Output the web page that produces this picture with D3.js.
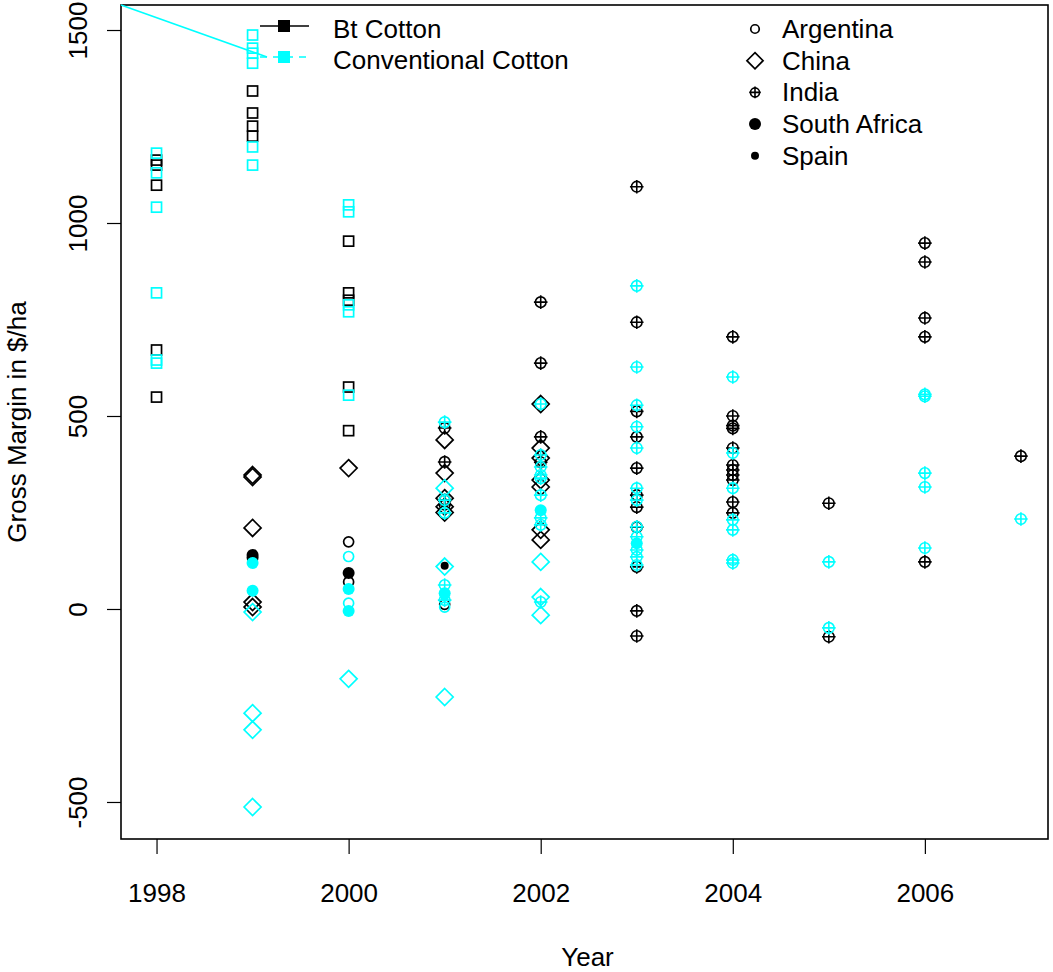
<!DOCTYPE html>
<html>
<head>
<meta charset="utf-8">
<script src="https://cdn.jsdelivr.net/npm/d3@7"></script>
<style>
  html, body { margin: 0; padding: 0; background: #fff; }
  svg { display: block; font-family: "Liberation Sans", Arial, sans-serif; }
</style>
</head>
<body>
<svg id="chart" width="1053" height="972"></svg>
<script>
// ---------- data ----------
const xTicks = [1998, 2000, 2002, 2004, 2006];
const yTicks = [-500, 0, 500, 1000, 1500];
const typeLabels = ["Bt Cotton", "Conventional Cotton"];
const countries = ["Argentina", "China", "India", "South Africa", "Spain"];

// squares (country not named in the legend)
const squareBt = [[1998,1163],[1998,1150],[1998,1098],[1998,671],[1998,549],
  [1999,1342],[1999,1285],[1999,1251],[1999,1225],
  [2000,953],[2000,819],[2000,800],[2000,575],[2000,462]];
const squareConv = [[1998,1181],[1998,1130],[1998,1041],[1998,819],[1998,645],[1998,637],
  [1999,1487],[1999,1453],[1999,1440],[1999,1414],[1999,1197],[1999,1150],
  [2000,1047],[2000,1029],[2000,788],[2000,770],[2000,554]];

const argentinaBt = [[2000,174],[2000,70],[2001,12]];
const argentinaConv = [[2000,136],[2000,15],[2001,5]];

const chinaBt = [[1999,347],[1999,342],[1999,210],[1999,18],[1999,5],
  [2000,365],
  [2001,438],[2001,352],[2001,287],[2001,265],[2001,250],
  [2002,531],[2002,417],[2002,391],[2002,334],[2002,316],[2002,205],[2002,179]];
const chinaConv = [[1999,-8],[1999,-270],[1999,-313],[1999,-513],
  [2000,-181],
  [2001,313],[2001,110],[2001,-228],
  [2002,122],[2002,31],[2002,-16]];

const indiaBt = [[2001,469],[2001,381],[2001,282],[2001,270],
  [2002,795],[2002,637],[2002,446],[2002,380],
  [2003,1094],[2003,743],[2003,512],[2003,446],[2003,365],[2003,295],[2003,264],[2003,212],[2003,109],[2003,-5],[2003,-70],
  [2004,705],[2004,500],[2004,475],[2004,468],[2004,417],[2004,373],[2004,360],[2004,347],[2004,334],[2004,277],[2004,249],
  [2005,274],[2005,-72],
  [2006,948],[2006,899],[2006,754],[2006,705],[2006,122],
  [2007,396]];
const indiaConv = [[2001,484],[2001,282],[2001,249],[2001,62],[2001,23],
  [2002,531],[2002,399],[2002,368],[2002,347],[2002,339],[2002,295],[2002,236],[2002,218],[2002,18],
  [2003,837],[2003,627],[2003,528],[2003,472],[2003,417],[2003,313],[2003,282],[2003,213],[2003,187],[2003,153],[2003,135],[2003,114],
  [2004,601],[2004,404],[2004,313],[2004,231],[2004,205],[2004,127],[2004,119],
  [2005,122],[2005,-49],
  [2006,556],[2006,551],[2006,352],[2006,316],[2006,158],
  [2007,233]];

const southAfricaBt = [[1999,140],[1999,133],[2000,93]];
const southAfricaConv = [[1999,119],[1999,47],[2000,52],[2000,-5],[2001,41],[2002,256],[2003,170]];

const spainBt = [[2001,112]];
const spainConv = [[2001,30]];

// ---------- layout ----------
const M = { left: 121, right: 1048, top: 5, bottom: 839 };
const BLACK = "#000000", CYAN = "#00FFFF";
const FONT = 26;

const svg = d3.select("#chart");
const x = d3.scaleLinear().domain([1997.63, 2007.282]).range([M.left, M.right]);
const y = d3.scaleLinear().domain([-595.9, 1564.8]).range([M.bottom, M.top]);

// ---------- symbols ----------
function drawSymbol(g, shape, cx, cy, color, scale) {
  const s = scale || 1;
  if (shape === "square") {
    g.append("rect").attr("x", cx - 5*s).attr("y", cy - 5*s).attr("width", 10*s).attr("height", 10*s)
      .attr("fill", "none").attr("stroke", color).attr("stroke-width", 1.7);
  } else if (shape === "circle") {
    g.append("circle").attr("cx", cx).attr("cy", cy).attr("r", 5*s)
      .attr("fill", "none").attr("stroke", color).attr("stroke-width", 1.7);
  } else if (shape === "diamond") {
    const r = 8.5*s;
    g.append("path").attr("d", `M${cx},${cy-r}L${cx+r},${cy}L${cx},${cy+r}L${cx-r},${cy}Z`)
      .attr("fill", "none").attr("stroke", color).attr("stroke-width", 1.7);
  } else if (shape === "cplus") {
    const r = 5.3*s, a = 6.8*s;
    g.append("circle").attr("cx", cx).attr("cy", cy).attr("r", r)
      .attr("fill", "none").attr("stroke", color).attr("stroke-width", 1.6);
    g.append("path").attr("d", `M${cx-a},${cy}H${cx+a}M${cx},${cy-a}V${cy+a}`)
      .attr("stroke", color).attr("stroke-width", 1.6);
  } else if (shape === "dot") {
    g.append("circle").attr("cx", cx).attr("cy", cy).attr("r", 6*s).attr("fill", color);
  } else if (shape === "smalldot") {
    g.append("circle").attr("cx", cx).attr("cy", cy).attr("r", 4*s).attr("fill", color);
  }
}

// ---------- frame & axes ----------
svg.append("rect").attr("x", M.left).attr("y", M.top)
  .attr("width", M.right - M.left).attr("height", M.bottom - M.top)
  .attr("fill", "none").attr("stroke", BLACK).attr("stroke-width", 1.6);

const xAxis = svg.append("g").attr("transform", `translate(0,${M.bottom})`)
  .call(d3.axisBottom(x).tickValues(xTicks).tickFormat(d => String(d)).tickSize(15).tickPadding(0));
xAxis.select(".domain").remove();
xAxis.selectAll(".tick line").attr("stroke", BLACK).attr("stroke-width", 1.2);
xAxis.selectAll(".tick text").attr("font-size", FONT).attr("fill", BLACK)
  .attr("dy", null).attr("y", 63).attr("font-family", "Liberation Sans, Arial, sans-serif");

const yAxis = svg.append("g").attr("transform", `translate(${M.left},0)`)
  .call(d3.axisLeft(y).tickValues(yTicks).tickFormat(d => String(d)).tickSize(14));
yAxis.select(".domain").remove();
yAxis.selectAll(".tick line").attr("stroke", BLACK).attr("stroke-width", 1.2);
yAxis.selectAll(".tick text").attr("font-size", FONT).attr("fill", BLACK)
  .attr("font-family", "Liberation Sans, Arial, sans-serif")
  .attr("x", null).attr("dy", null).attr("text-anchor", "middle")
  .attr("transform", "translate(-34,0) rotate(-90)");

svg.append("text").attr("x", (M.left + M.right) / 2 + 3).attr("y", 966)
  .attr("text-anchor", "middle").attr("font-size", FONT).text("Year");
svg.append("text").attr("transform", `translate(26,${(M.top + M.bottom) / 2}) rotate(-90)`)
  .attr("text-anchor", "middle").attr("font-size", FONT).text("Gross Margin in $/ha");

// ---------- points ----------
const series = [
  { data: squareBt, shape: "square", color: BLACK },
  { data: squareConv, shape: "square", color: CYAN },
  { data: argentinaBt, shape: "circle", color: BLACK },
  { data: argentinaConv, shape: "circle", color: CYAN },
  { data: chinaBt, shape: "diamond", color: BLACK },
  { data: chinaConv, shape: "diamond", color: CYAN },
  { data: indiaBt, shape: "cplus", color: BLACK },
  { data: indiaConv, shape: "cplus", color: CYAN },
  { data: southAfricaBt, shape: "dot", color: BLACK },
  { data: southAfricaConv, shape: "dot", color: CYAN },
  { data: spainBt, shape: "smalldot", color: BLACK },
  { data: spainConv, shape: "smalldot", color: CYAN }
];
const pts = svg.append("g");
series.forEach(s => {
  s.data.forEach(d => drawSymbol(pts, s.shape, x(d[0]), y(d[1]), s.color));
});

// ---------- legends ----------
const lg = svg.append("g");
const legRows = [26, 57];
// stray cyan segment from top-left corner to the legend line
lg.append("line").attr("x1", x(x.domain()[0])).attr("y1", y(y.domain()[1]))
  .attr("x2", 267).attr("y2", legRows[1]).attr("stroke", CYAN).attr("stroke-width", 1.5);
lg.append("line").attr("x1", 260).attr("x2", 309).attr("y1", legRows[0]).attr("y2", legRows[0])
  .attr("stroke", BLACK).attr("stroke-width", 1.5);
lg.append("rect").attr("x", 278).attr("y", legRows[0] - 6).attr("width", 12).attr("height", 12).attr("fill", BLACK);
lg.append("line").attr("x1", 260).attr("x2", 309).attr("y1", legRows[1]).attr("y2", legRows[1])
  .attr("stroke", CYAN).attr("stroke-width", 1.5).attr("stroke-dasharray", "7,6");
lg.append("rect").attr("x", 278).attr("y", legRows[1] - 6).attr("width", 12).attr("height", 12).attr("fill", CYAN);
typeLabels.forEach((t, i) => {
  lg.append("text").attr("x", 333).attr("y", legRows[i] + 12).attr("font-size", FONT).text(t);
});

const cShapes = ["circle", "diamond", "cplus", "dot", "smalldot"];
const cScale = [0.85, 0.95, 0.85, 1, 1];
countries.forEach((c, i) => {
  const cy = 29 + i * 31.7;
  drawSymbol(lg, cShapes[i], 755, cy, BLACK, cScale[i]);
  lg.append("text").attr("x", 782).attr("y", cy + 9).attr("font-size", FONT).text(c);
});
</script>
</body>
</html>
